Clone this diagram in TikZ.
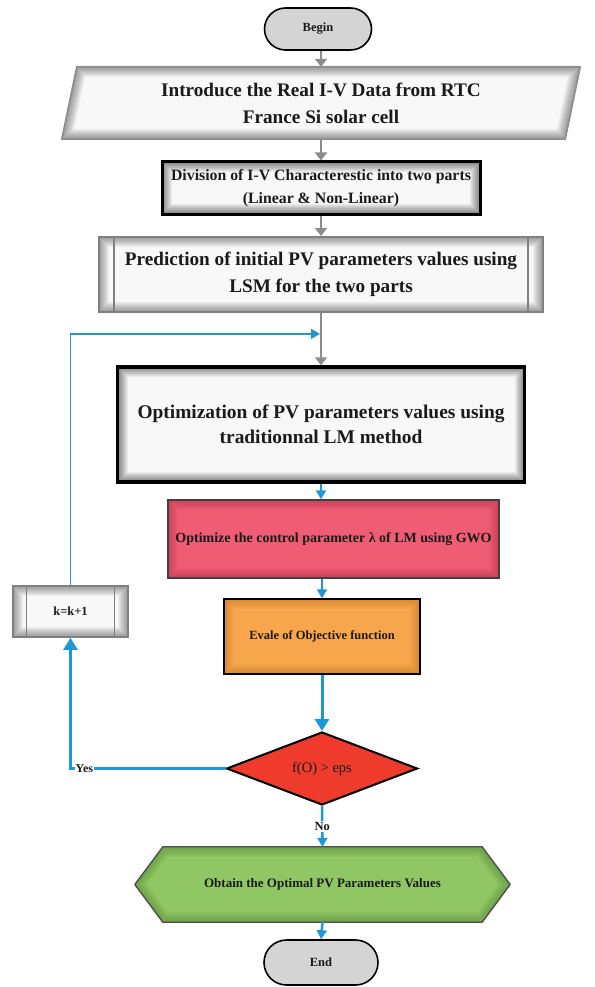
\documentclass[tikz,border=0pt]{standalone}
\usepackage{fontspec}
\setmainfont{Liberation Serif}
\usetikzlibrary{shapes.geometric,shapes.misc,arrows.meta,calc,backgrounds}

\definecolor{inkdark}{HTML}{1A1A1A}
\definecolor{termgray}{HTML}{D4D4D4}
\definecolor{boxlight}{HTML}{F8F8F8}
\definecolor{procgray}{HTML}{808080}
\definecolor{grayline}{HTML}{8C8C8C}
\definecolor{flowblue}{HTML}{1E98D5}
\definecolor{pinkred}{HTML}{F05C74}
\definecolor{pinkdark}{HTML}{A82A40}
\definecolor{orangebox}{HTML}{F8A64C}
\definecolor{orangedark}{HTML}{B86E1A}
\definecolor{redbox}{HTML}{EE3B2C}
\definecolor{greenbox}{HTML}{90C764}
\definecolor{greendark}{HTML}{4E7E2E}

% soft inner shading along the edge of a rectangular node
\tikzset{
  glow/.style={path picture={
      \foreach \w in {2,4,...,20}{
        \draw[#1,opacity=0.055,line width=\w pt]
          (path picture bounding box.south west) rectangle (path picture bounding box.north east);}}},
  txt/.style={text=inkdark, align=center, inner sep=0pt},
  terminal/.style={txt, rounded rectangle, draw=black, line width=1.6pt, fill=termgray,
    font=\fontsize{12.5}{15}\selectfont\bfseries},
  darkbox/.style={txt, rectangle, draw=black, line width=3pt, fill=boxlight, glow=black},
  procbox/.style={txt, rectangle, draw=procgray, line width=2pt, fill=boxlight, glow=black!80},
  colbox/.style={txt, rectangle, line width=1.4pt},
  lbl/.style={text=inkdark, inner sep=1pt, font=\fontsize{12}{14}\selectfont\bfseries},
  grayarrow/.style={draw=grayline, line width=2pt, -{Triangle[length=8pt,width=12pt]}},
  bluethin/.style={draw=flowblue, line width=1.5pt, -{Triangle[length=9pt,width=10pt]}},
  blueline/.style={draw=flowblue, line width=2pt, -{Triangle[length=9pt,width=10pt]}},
  bluethick/.style={draw=flowblue, line width=3pt, -{Triangle[length=12pt,width=14pt]}},
}

% filled outline with a darker rim inside it
\newcommand{\rimfill}[3]{%
  \begin{scope}
    \clip #3;
    \fill[#1] #3;
    \foreach \w in {2,4,...,20}{\draw[#2,opacity=0.055,line width=\w pt] #3;}
  \end{scope}}

\begin{document}
\begin{tikzpicture}[x=1pt,y=-1pt]
\useasboundingbox (0,0) rectangle (594,987);

% --- nodes ---
\node[terminal, minimum width=107pt, minimum height=42pt] (begin) at (318,29) {Begin};

\node[txt, minimum width=518pt, minimum height=72pt,
      font=\fontsize{19.2}{27}\selectfont\bfseries] (intro) at (321,103)
  {Introduce the Real I-V Data from RTC\\France Si solar cell};

\node[darkbox, minimum width=318pt, minimum height=52pt,
      font=\fontsize{15.8}{23}\selectfont\bfseries] (div) at (321,188)
  {Division of I-V Characterestic into two parts\\(Linear \& Non-Linear)};

\node[procbox, minimum width=444pt, minimum height=75pt,
      font=\fontsize{19.2}{27}\selectfont\bfseries] (lsm) at (321,274.5)
  {Prediction of initial PV parameters values using\\LSM for the two parts};

\node[darkbox, line width=3.5pt, minimum width=407pt, minimum height=115pt,
      font=\fontsize{19.4}{25}\selectfont\bfseries] (opt) at (321,424.5)
  {Optimization of PV parameters values using\\traditionnal LM method};

\node[colbox, draw=black!75, fill=pinkred, glow=pinkdark, minimum width=331pt, minimum height=78pt,
      font=\fontsize{14}{16}\selectfont\bfseries] (gwo) at (333.5,539)
  {Optimize the control parameter λ of LM using GWO};

\node[colbox, draw=black, fill=orangebox, glow=orangedark, minimum width=196pt, minimum height=75pt,
      font=\fontsize{12.5}{15}\selectfont\bfseries] (eval) at (322,636.5)
  {Evale of Objective function};

\node[txt, diamond, draw=black, line width=2pt, fill=redbox, minimum width=191pt, minimum height=71pt,
      font=\fontsize{14.5}{17}\selectfont] (dia) at (322,768.5) {f(O) > eps};

\node[procbox, line width=1.6pt, minimum width=115pt, minimum height=51pt,
      font=\fontsize{12.5}{15}\selectfont\bfseries] (kinc) at (70.5,611.5) {k=k+1};

\node[txt, minimum width=375pt, minimum height=75pt,
      font=\fontsize{13}{16}\selectfont\bfseries] (hex) at (322.5,884.5)
  {Obtain the Optimal PV Parameters Values};

\node[terminal, minimum width=114pt, minimum height=45pt] (end) at (321,962.5) {End};

% --- drawn outlines behind the text nodes ---
\begin{pgfonlayer}{background}
  \rimfill{boxlight}{black!80}{($(intro.north west)+(15,0)$) -- (intro.north east) -- ($(intro.south east)+(-15,0)$) -- (intro.south west) -- cycle}
  \draw[grayline, line width=1.6pt, line join=round]
    ($(intro.north west)+(15,0)$) -- (intro.north east) -- ($(intro.south east)+(-15,0)$) -- (intro.south west) -- cycle;

  \rimfill{greenbox}{greendark}{(hex.west) -- ($(hex.north west)+(28,0)$) -- ($(hex.north east)+(-28,0)$) -- (hex.east) -- ($(hex.south east)+(-28,0)$) -- ($(hex.south west)+(28,0)$) -- cycle}
  \draw[black!70, line width=1.3pt, line join=round]
    (hex.west) -- ($(hex.north west)+(28,0)$) -- ($(hex.north east)+(-28,0)$) -- (hex.east)
    -- ($(hex.south east)+(-28,0)$) -- ($(hex.south west)+(28,0)$) -- cycle;
\end{pgfonlayer}

% side bars of the predefined-process boxes
\draw[procgray, line width=1.5pt] ($(lsm.north west)+(16,0)$) -- ($(lsm.south west)+(16,0)$);
\draw[procgray, line width=1.5pt] ($(lsm.north east)+(-16,0)$) -- ($(lsm.south east)+(-16,0)$);
\draw[procgray, line width=1.2pt] ($(kinc.north west)+(14,0)$) -- ($(kinc.south west)+(14,0)$);
\draw[procgray, line width=1.2pt] ($(kinc.north east)+(-14,0)$) -- ($(kinc.south east)+(-14,0)$);

% --- connectors ---
\draw[grayarrow] (intro.north |- begin.south) -- (intro.north);
\draw[grayarrow] (intro.south) -- (div.north);
\draw[grayarrow] (div.south) -- (lsm.north);
\draw[grayarrow] (lsm.south) -- (opt.north);

\coordinate (merge) at ($(lsm.south)!0.4!(opt.north)$);
\draw[bluethin] (kinc.north) |- ($(merge)+(-1,0)$);

\draw[blueline] (opt.south) -- (opt.south |- gwo.north);
\draw[blueline] (eval.north |- gwo.south) -- (eval.north);
\draw[bluethick] (eval.south) -- (dia.north);
\draw[blueline, line width=2.5pt] (dia.south) -- (hex.north);
\draw[blueline, line width=2.5pt] (hex.south) -- (end.north);
\draw[draw=flowblue, line width=2.5pt, -{Triangle[length=12pt,width=14pt]}]
  (dia.west) -| (kinc.south);

% --- branch labels ---
\node[lbl, fill=white, anchor=west] (yes) at ($(kinc.south |- dia.west)+(4,0)$) {Yes};
\node[lbl, fill=white, font=\fontsize{12.5}{15}\selectfont\bfseries] (no) at ($(dia.south)!0.5!(hex.north)$) {No};
\end{tikzpicture}
\end{document}
